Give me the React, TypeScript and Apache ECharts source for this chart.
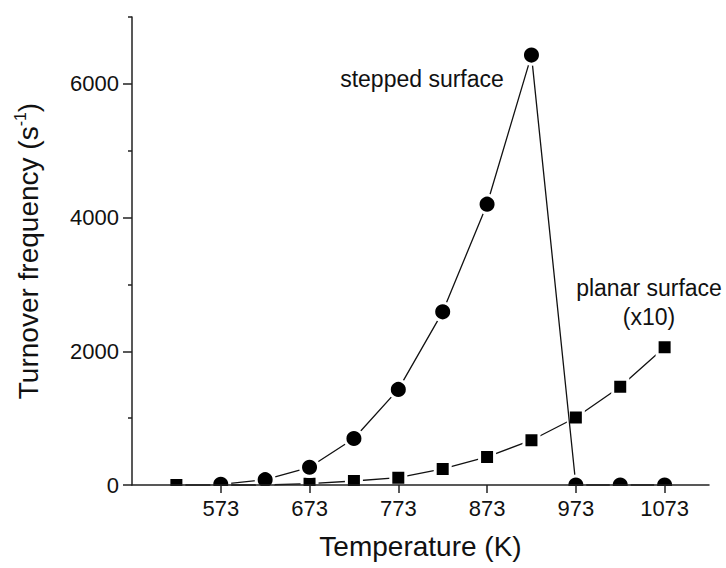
import React, { useEffect, useRef } from "react";
import * as echarts from "echarts";

const temps = [523, 573, 623, 673, 723, 773, 823, 873, 923, 973, 1023, 1073];
const steppedTOF = [null, 10, 80, 265, 695, 1430, 2590, 4200, 6430, 0, 0, 0];
const planarTOFx10 = [0, 0, 0, 20, 60, 110, 240, 420, 670, 1010, 1470, 2060];

const xTicks = [573, 673, 773, 873, 973, 1073];
const yTicks = [0, 2000, 4000, 6000];
const yMinorTicks = [1000, 3000, 5000, 7000];

const FONT = "'Liberation Sans', Arial, Helvetica, sans-serif";

export default function App() {
  const ref = useRef<HTMLDivElement>(null);

  useEffect(() => {
    if (!ref.current) return;
    const chart = echarts.init(ref.current, undefined, { renderer: "svg" });

    const stepped = temps.map((t, i) => [t, steppedTOF[i]]).filter((p) => p[1] !== null);
    const planar = temps.map((t, i) => [t, planarTOFx10[i]]);
    const plain = (v: number) => String(v);

    chart.setOption({
      animation: false,
      backgroundColor: "#fff",
      grid: { left: 132, right: 17, top: 17, bottom: 83, containLabel: false },
      xAxis: {
        type: "value",
        min: 473,
        max: 1123,
        z: 10,
        axisLine: { show: true, lineStyle: { color: "#222", width: 1.5 } },
        axisTick: { show: true, customValues: xTicks, length: 8, lineStyle: { color: "#222", width: 1.5 } },
        axisLabel: { customValues: xTicks, formatter: plain, fontSize: 22, color: "#111", fontFamily: FONT, margin: 12 },
        splitLine: { show: false },
        name: "Temperature (K)",
        nameLocation: "middle",
        nameGap: 47,
        nameTextStyle: { fontSize: 28, color: "#111", fontFamily: FONT },
      },
      yAxis: [
        {
          type: "value",
          min: 0,
          max: 7000,
          position: "left",
          z: 10,
          axisLine: { show: true, lineStyle: { color: "#222", width: 1.5 } },
          axisTick: { show: true, customValues: yTicks, length: 9, lineStyle: { color: "#222", width: 1.5 } },
          axisLabel: { customValues: yTicks, formatter: plain, fontSize: 22, color: "#111", fontFamily: FONT, margin: 13 },
          splitLine: { show: false },
          name: "Turnover frequency (s{sup|-1})",
          nameLocation: "middle",
          nameGap: 88,
          nameTextStyle: {
            fontSize: 28,
            color: "#111",
            fontFamily: FONT,
            rich: {
              sup: { fontSize: 16, color: "#111", fontFamily: FONT, verticalAlign: "top", lineHeight: 32 },
            },
          },
        },
        {
          type: "value",
          min: 0,
          max: 7000,
          position: "left",
          offset: 0,
          z: 10,
          axisLine: { show: false },
          axisTick: { show: true, customValues: yMinorTicks, length: 4, lineStyle: { color: "#222", width: 1.5 } },
          axisLabel: { show: false },
          splitLine: { show: false },
        },
      ],
      graphic: [
        {
          type: "rect",
          z: 5,
          silent: true,
          shape: { x: 126, y: 486, width: 600, height: 11 },
          style: { fill: "#fff" },
        },
        {
          type: "text",
          z: 6,
          x: 422,
          y: 79,
          style: {
            text: "stepped surface",
            fontSize: 23,
            fontFamily: FONT,
            fill: "#111",
            textAlign: "center",
            textVerticalAlign: "middle",
          },
        },
        {
          type: "text",
          z: 6,
          x: 649,
          y: 302,
          style: {
            text: "planar surface\n(x10)",
            fontSize: 23,
            lineHeight: 29,
            fontFamily: FONT,
            fill: "#111",
            textAlign: "center",
            textVerticalAlign: "middle",
          },
        },
      ],
      series: [
        {
          name: "planar surface (x10)",
          type: "line",
          data: planar,
          symbol: "rect",
          symbolSize: 15,
          clip: false,
          lineStyle: { color: "#111", width: 1.3 },
          itemStyle: { color: "#000", borderColor: "#fff", borderWidth: 3 },
          z: 2,
        },
        {
          name: "stepped surface",
          type: "line",
          data: stepped,
          symbol: "circle",
          symbolSize: 18,
          clip: false,
          lineStyle: { color: "#111", width: 1.3 },
          itemStyle: { color: "#000", borderColor: "#fff", borderWidth: 3 },
          z: 3,
        },
      ],
    });

    return () => chart.dispose();
  }, []);

  return (
    <div
      ref={ref}
      style={{ position: "fixed", left: 0, top: 0, width: 726, height: 568, background: "#fff" }}
    />
  );
}
